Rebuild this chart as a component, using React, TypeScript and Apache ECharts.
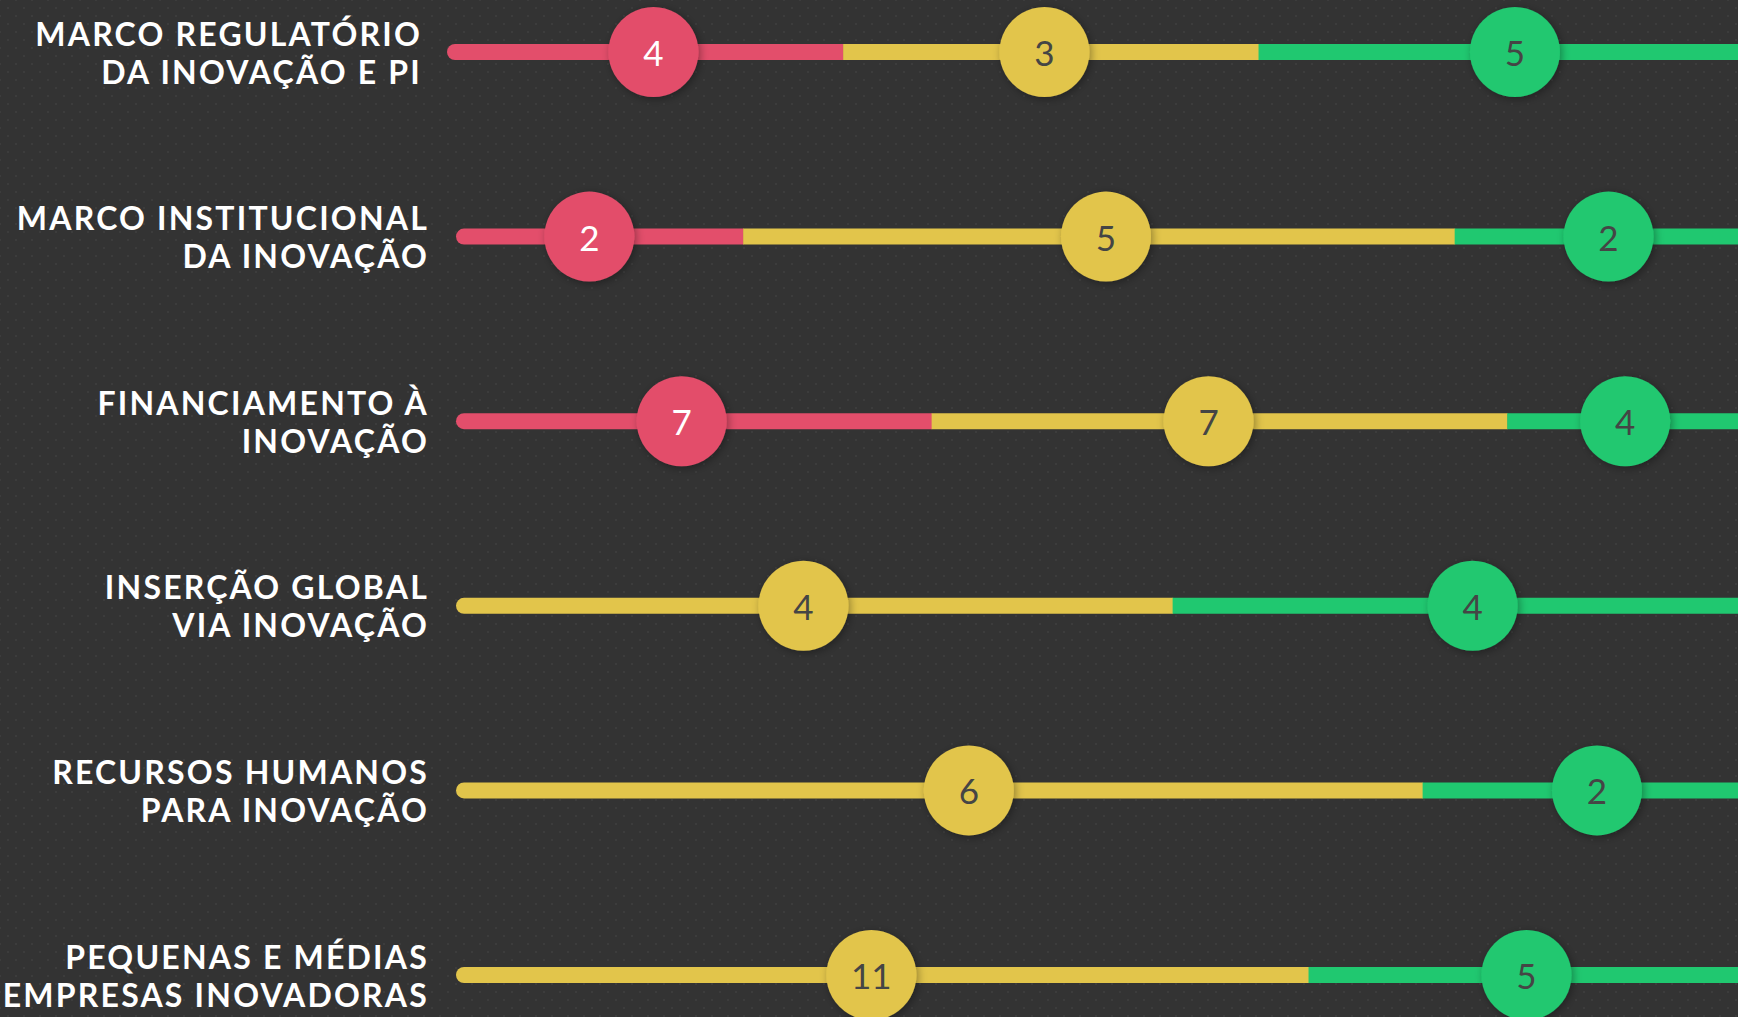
import React, { useEffect, useRef } from "react";
import * as echarts from "echarts";

// ---- Data ----
const categories = [
  "MARCO REGULATÓRIO\nDA INOVAÇÃO E PI",
  "MARCO INSTITUCIONAL\nDA INOVAÇÃO",
  "FINANCIAMENTO À\nINOVAÇÃO",
  "INSERÇÃO GLOBAL\nVIA INOVAÇÃO",
  "RECURSOS HUMANOS\nPARA INOVAÇÃO",
  "PEQUENAS E MÉDIAS\nEMPRESAS INOVADORAS",
];

// counts shown in the circles
const redCounts = [4, 2, 7, 0, 0, 0];
const yellowCounts = [3, 5, 7, 4, 6, 11];
const greenCounts = [5, 2, 4, 4, 2, 5];

// track segment boundaries (percent of track)
const trackStart = [-0.7, 0, 0, 0, 0, 0];
const redEnd = [30.2, 22.4, 37.1, 0, 0, 0];
const yellowEnd = [62.6, 77.9, 82.0, 55.9, 75.4, 66.5];
const trackEnd = [100, 100, 100, 100, 100, 100];

// circle positions along the track (percent)
const redPos = [15.4, 10.4, 17.6, null, null, null];
const yellowPos = [45.9, 50.7, 58.7, 27.1, 40.0, 32.4];
const greenPos = [82.6, 89.9, 91.2, 79.3, 89.0, 83.5];

const RED = "#E34E6B";
const YELLOW = "#E2C54B";
const GREEN = "#20C870";
const COLORS = [RED, YELLOW, GREEN];

export default function App() {
  const ref = useRef<HTMLDivElement>(null);

  useEffect(() => {
    if (!ref.current) return;
    const chart = echarts.init(ref.current, undefined, { renderer: "svg" });

    // segments: [row, start, end, colorIndex, isFirst]
    const segments: any[] = [];
    categories.forEach((_, i) => {
      const s0 = trackStart[i];
      const r1 = redCounts[i] > 0 ? redEnd[i] : s0;
      if (redCounts[i] > 0) segments.push([i, s0, r1, 0, 1]);
      segments.push([i, r1, yellowEnd[i], 1, redCounts[i] > 0 ? 0 : 1]);
      segments.push([i, yellowEnd[i], trackEnd[i], 2, 0]);
    });

    const circles: any[] = [];
    categories.forEach((_, i) => {
      if (redPos[i] != null && redCounts[i] > 0) circles.push({ value: [redPos[i], i, redCounts[i]], c: 0 });
      circles.push({ value: [yellowPos[i], i, yellowCounts[i]], c: 1 });
      circles.push({ value: [greenPos[i], i, greenCounts[i]], c: 2 });
    });

    const BAR_H = 16;

    chart.setOption({
      animation: false,
      backgroundColor: "transparent",
      grid: { left: 456, right: 0, top: 52, bottom: 42 },
      xAxis: {
        type: "value",
        min: 0,
        max: 100,
        show: false,
      },
      yAxis: {
        type: "category",
        inverse: true,
        boundaryGap: false,
        data: categories.map((c, i) =>
          i === 0 ? { value: c, textStyle: { padding: [0, 7, 0, 0] } } : { value: c }
        ),
        axisLine: { show: false },
        axisTick: { show: false },
        splitLine: { show: false },
        axisLabel: {
          margin: 27,
          color: "#FFFFFF",
          fontFamily: "Lato, 'Noto Sans'",
          fontWeight: "bold",
          fontSize: 32,
          lineHeight: 38,
          align: "right",
          interval: 0,
        },
      },
      series: [
        {
          type: "custom",
          clip: false,
          z: 2,
          encode: { x: [1, 2], y: 0 },
          data: segments,
          renderItem: (params: any, api: any) => {
            const row = api.value(0);
            const s = api.value(1);
            const e = api.value(2);
            const ci = api.value(3);
            const first = api.value(4);
            const p1 = api.coord([s, row]);
            const p2 = api.coord([e, row]);
            return {
              type: "rect",
              shape: {
                x: p1[0],
                y: p1[1] - BAR_H / 2,
                width: p2[0] - p1[0] + (ci === 2 ? 0 : 0.5),
                height: BAR_H,
                r: first ? [BAR_H / 2, 0, 0, BAR_H / 2] : 0,
              },
              style: { fill: COLORS[ci] },
            };
          },
        },
        {
          type: "scatter",
          z: 3,
          symbol: "circle",
          symbolSize: 90,
          data: circles.map((d) => ({
            value: d.value,
            itemStyle: {
              color: COLORS[d.c],
              opacity: 1,
              shadowBlur: 8,
              shadowColor: "rgba(0,0,0,0.35)",
              shadowOffsetX: 2,
              shadowOffsetY: 2,
            },
            label: {
              show: true,
              position: "inside",
              formatter: String(d.value[2]),
              color: d.c === 0 ? "#FFFFFF" : "#454545",
              fontFamily: "Lato, Roboto",
              fontWeight: "normal",
              fontSize: 35,
            },
          })),
        },
      ],
    });

    return () => chart.dispose();
  }, []);

  return (
    <>
      <style>{`
        #chartbox text[style*="Noto Sans"] { letter-spacing: 2.2px; }
        #chartbox text[font-family*="Noto Sans"] { letter-spacing: 2.2px; }
      `}</style>
      <div
        id="chartbox"
        ref={ref}
        style={{
          position: "fixed",
          left: 0,
          top: 0,
          width: 1738,
          height: 1017,
          backgroundColor: "#333333",
          backgroundImage:
            "radial-gradient(circle, #3c3c3c 0.9px, transparent 1.3px), radial-gradient(circle, #3c3c3c 0.9px, transparent 1.3px)",
          backgroundSize: "16px 16px, 16px 16px",
          backgroundPosition: "0 0, 8px 8px",
        }}
      />
    </>
  );
}
